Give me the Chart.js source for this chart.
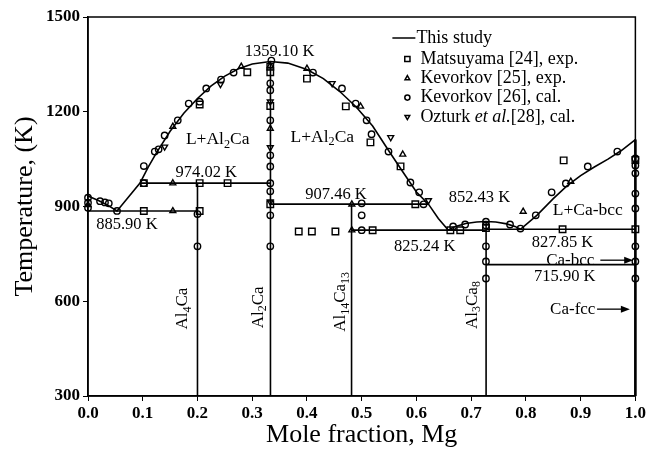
<!DOCTYPE html>
<html>
<head>
<meta charset="utf-8">
<script src="https://cdn.jsdelivr.net/npm/chart.js@4.4.0/dist/chart.umd.min.js"></script>
<style>
  html, body { margin: 0; padding: 0; background: #fff; }
</style>
</head>
<body>
<canvas id="phaseChart" width="648" height="455"></canvas>
<script>
const SERIF = '"Liberation Serif", "Times New Roman", serif';

// liquidus calculated in this study, [mole fraction Mg, T]
const liquidus = [
    [0, 933], [0.02, 918], [0.035, 905], [0.053, 885.9], [0.095, 974.02],
    [0.11, 1025], [0.125, 1070], [0.15, 1138], [0.175, 1195], [0.2, 1242],
    [0.225, 1282], [0.25, 1313], [0.275, 1336], [0.3, 1351], [0.333, 1359.1],
    [0.365, 1354], [0.4, 1334], [0.43, 1305], [0.46, 1264], [0.49, 1215],
    [0.52, 1155], [0.55, 1075], [0.575, 1010], [0.6, 946], [0.622, 907.46],
    [0.64, 862], [0.658, 825.24], [0.67, 836], [0.69, 846], [0.71, 851],
    [0.727, 852.43], [0.745, 851], [0.765, 845], [0.78, 837], [0.79, 827.85],
    [0.82, 872], [0.85, 925], [0.875, 965], [0.9, 998], [0.925, 1025],
    [0.95, 1050], [0.975, 1078], [1.0, 1112]
];

// invariant reactions (horizontal lines)
const invariantT = [885.90, 974.02, 907.46, 825.24, 827.85, 715.90];
const invariantFrom = [0, 0.095, 0.333, 0.482, 0.727, 0.727];
const invariantTo = [0.2, 0.333, 0.622, 0.727, 1.0, 1.0];

// compounds (vertical lines)
const compoundX = [0.2, 1 / 3, 13 / 27, 8 / 11, 1.0];
const compoundTop = [974.02, 1359.10, 907.46, 852.43, 1112];

// literature data
const matsuyamaExp = [
    [0.102, 885.9], [0.102, 974], [0.204, 885.9], [0.204, 974], [0.255, 974], [0.204, 1223],
    [0.291, 1325], [0.333, 1342], [0.333, 1325], [0.333, 1218], [0.333, 907], [0.4, 1305],
    [0.471, 1217], [0.516, 1103], [0.571, 1027], [0.598, 907], [0.385, 821], [0.409, 821],
    [0.452, 821], [0.52, 825], [0.662, 825], [0.68, 825], [0.727, 832], [0.867, 828],
    [0.869, 1046], [1.0, 828], [1.0, 1047]
];
const kevorkovExp = [
    [0, 905], [0.155, 885.9], [0.155, 974], [0.155, 1153], [0.28, 1343], [0.333, 1346],
    [0.333, 1147], [0.4, 1337], [0.498, 1217], [0.575, 1065], [0.482, 907], [0.482, 825],
    [0.795, 884], [0.882, 979]
];
const kevorkovCal = [
    [0, 928], [0, 912], [0, 896], [0.022, 917], [0.031, 913], [0.038, 910], [0.053, 885.9],
    [0.102, 974], [0.102, 1028], [0.122, 1074], [0.129, 1081], [0.14, 1125], [0.164, 1173],
    [0.184, 1226], [0.204, 1232], [0.216, 1274], [0.243, 1302], [0.266, 1324], [0.335, 1362],
    [0.333, 1290], [0.333, 1268], [0.333, 1173], [0.333, 1062], [0.333, 1027], [0.333, 974],
    [0.333, 948], [0.333, 872], [0.333, 774], [0.2, 876], [0.2, 774], [0.411, 1324],
    [0.464, 1274], [0.489, 1226], [0.509, 1173], [0.518, 1129], [0.549, 1074], [0.589, 976],
    [0.605, 945], [0.613, 907], [0.5, 910], [0.5, 872], [0.5, 825], [0.667, 837],
    [0.689, 843], [0.727, 852], [0.727, 840], [0.771, 843], [0.79, 830], [0.727, 774],
    [0.727, 726], [0.727, 672], [1.0, 1052], [1.0, 1030], [1.0, 1005], [1.0, 941],
    [1.0, 894], [1.0, 774], [1.0, 726], [1.0, 672], [0.818, 872], [0.847, 945],
    [0.873, 973], [0.913, 1027], [0.967, 1074]
];
const ozturkCal = [
    [0.14, 1089], [0.242, 1287], [0.333, 1232], [0.333, 1087], [0.333, 915],
    [0.446, 1290], [0.553, 1119], [0.622, 919]
];

// text placed in data coordinates: _{..} subscript, *..* italic
const notes = [
    { text: '1359.10 K', x: 0.35, t: 1390, size: 16.5 },
    { text: 'L+Al_{2}Ca', x: 0.237, t: 1111, size: 17.5 },
    { text: 'L+Al_{2}Ca', x: 0.428, t: 1120, size: 17.5 },
    { text: '974.02 K', x: 0.216, t: 1006, size: 16.5 },
    { text: '885.90 K', x: 0.071, t: 844, size: 16.5 },
    { text: '907.46 K', x: 0.453, t: 939, size: 16.5 },
    { text: '852.43 K', x: 0.715, t: 929, size: 16.5 },
    { text: '825.24 K', x: 0.615, t: 772, size: 16.5 },
    { text: '827.85 K', x: 0.867, t: 787, size: 16.5 },
    { text: 'L+Ca-bcc', x: 0.913, t: 889, size: 17.5 },
    { text: '715.90 K', x: 0.871, t: 677, size: 16.5 },
    { text: 'Ca-bcc', x: 0.925, t: 730, size: 17, align: 'right' },
    { text: 'Ca-fcc', x: 0.927, t: 575, size: 17, align: 'right' },
    { text: 'Al_{4}Ca', x: 0.173, t: 577, size: 17, rot: true },
    { text: 'Al_{2}Ca', x: 0.311, t: 581, size: 17, rot: true },
    { text: 'Al_{14}Ca_{13}', x: 0.461, t: 598, size: 17, rot: true },
    { text: 'Al_{3}Ca_{8}', x: 0.702, t: 588, size: 17, rot: true }
];
const arrows = [
    { from: 0.936, to: 0.996, t: 730 },
    { from: 0.93, to: 0.99, t: 575 }
];

function drawRich(ctx, s, x, y, size, align) {
    let parts = [];
    s.replace(/_\{([^}]*)\}|\*([^*]*)\*|([^_*]+)/g, (m, sub, it, plain) => {
        if (sub) parts.push({ t: sub, font: (size * 0.7) + 'px ' + SERIF, dy: size * 0.3 });
        else if (it) parts.push({ t: it, font: 'italic ' + size + 'px ' + SERIF, dy: 0 });
        else parts.push({ t: plain, font: size + 'px ' + SERIF, dy: 0 });
        return m;
    });
    let w = 0;
    parts.forEach(p => { ctx.font = p.font; p.w = ctx.measureText(p.t).width; w += p.w; });
    let cx = align === 'center' ? x - w / 2 : (align === 'right' ? x - w : x);
    ctx.textAlign = 'left';
    parts.forEach(p => { ctx.font = p.font; ctx.fillText(p.t, cx, y + p.dy); cx += p.w; });
}

const toXY = arr => arr.map(p => ({ x: p[0], y: p[1] }));

let datasets = [];
function markers(label, data, style, radius, rotation) {
    datasets.push({
        label: label, data: toXY(data), showLine: false, order: 0, clip: false,
        pointStyle: style, pointRadius: radius, pointRotation: rotation || 0,
        pointBorderWidth: 1.4, pointBorderColor: '#000', pointBackgroundColor: 'rgba(0,0,0,0)'
    });
}
datasets.push({
    label: 'This study', data: toXY(liquidus), showLine: true, order: 1, clip: false,
    borderColor: '#000', borderWidth: 1.6, pointRadius: 0, tension: 0
});
markers('Matsuyama [24], exp.', matsuyamaExp, 'rect', 4.6);
markers('Kevorkov [25], exp.', kevorkovExp, 'triangle', 3.4);
markers('Kevorkov [26], cal.', kevorkovCal, 'circle', 3.2);
markers('Ozturk *et al.*[28], cal.', ozturkCal, 'triangle', 3.4, 180);

invariantT.forEach((t, i) => {
    datasets.push({
        data: [{ x: invariantFrom[i], y: t }, { x: invariantTo[i], y: t }],
        showLine: true, order: 1, borderColor: '#000', borderWidth: 1.6, pointRadius: 0
    });
});
compoundX.forEach((cx, i) => {
    datasets.push({
        data: [{ x: cx, y: 300 }, { x: cx, y: compoundTop[i] }],
        showLine: true, order: 1, clip: false, borderColor: '#000',
        borderWidth: cx === 1.0 ? 2.6 : 1.6, pointRadius: 0
    });
});

const drawings = {
    id: 'drawings',
    afterDraw(chart) {
        const { ctx, chartArea: a, scales: { x, y } } = chart;
        ctx.save();
        ctx.strokeStyle = '#000';
        ctx.lineWidth = 1.5;
        ctx.strokeRect(a.left, a.top, a.right - a.left, a.bottom - a.top);

        ctx.fillStyle = '#000';
        ctx.textBaseline = 'middle';
        notes.forEach(n => {
            const px = x.getPixelForValue(n.x), py = y.getPixelForValue(n.t);
            if (n.rot) {
                ctx.save();
                ctx.translate(px, py);
                ctx.rotate(-Math.PI / 2);
                drawRich(ctx, n.text, 0, 0, n.size, 'center');
                ctx.restore();
            } else {
                drawRich(ctx, n.text, px, py, n.size, n.align || 'center');
            }
        });

        arrows.forEach(ar => {
            const x1 = x.getPixelForValue(ar.from), x2 = x.getPixelForValue(ar.to);
            const py = y.getPixelForValue(ar.t);
            ctx.lineWidth = 1.3;
            ctx.beginPath();
            ctx.moveTo(x1, py);
            ctx.lineTo(x2 - 6, py);
            ctx.stroke();
            ctx.beginPath();
            ctx.moveTo(x2, py);
            ctx.lineTo(x2 - 9, py - 3.5);
            ctx.lineTo(x2 - 9, py + 3.5);
            ctx.closePath();
            ctx.fill();
        });

        // legend
        const mx = a.right - 228;
        let ly = a.top + 21;
        chart.data.datasets.forEach(ds => {
            if (!ds.label) return;
            if (ds.showLine) {
                ctx.lineWidth = 1.5;
                ctx.beginPath();
                ctx.moveTo(mx - 15, ly);
                ctx.lineTo(mx + 8, ly);
                ctx.stroke();
                ctx.fillStyle = '#000';
                drawRich(ctx, ds.label, mx + 9, ly, 18, 'left');
                ly += 21;
            } else {
                ctx.fillStyle = 'rgba(0,0,0,0)';
                Chart.helpers.drawPoint(ctx, {
                    pointStyle: ds.pointStyle, radius: ds.pointRadius * 0.8,
                    rotation: ds.pointRotation, borderWidth: 1.2
                }, mx, ly);
                ctx.fillStyle = '#000';
                drawRich(ctx, ds.label, mx + 13, ly, 18, 'left');
                ly += 19.3;
            }
        });
        ctx.restore();
    }
};

const tickFont = { family: SERIF, size: 17, weight: 'bold' };
const titleFont = { family: SERIF, size: 26 };

new Chart(document.getElementById('phaseChart').getContext('2d'), {
    type: 'scatter',
    data: { datasets: datasets },
    options: {
        responsive: false,
        animation: false,
        layout: { padding: { top: 17, right: 10, left: 0, bottom: 0 } },
        plugins: { legend: { display: false }, tooltip: { enabled: false } },
        scales: {
            x: {
                type: 'linear', min: 0, max: 1,
                ticks: { stepSize: 0.1, color: '#000', font: tickFont, padding: 2, maxRotation: 0,
                         callback: v => v.toFixed(1) },
                grid: { drawOnChartArea: false, color: '#000', tickLength: 5 },
                border: { color: '#000', width: 1.5 },
                title: { display: true, text: 'Mole fraction, Mg', color: '#000', font: titleFont,
                         padding: { top: 0, bottom: 4 } },
                afterFit: s => { s.height = 59; }
            },
            y: {
                min: 300, max: 1500,
                ticks: { stepSize: 300, color: '#000', font: tickFont, padding: 3,
                         callback: v => String(v) },
                grid: { drawOnChartArea: false, color: '#000', tickLength: 5 },
                border: { color: '#000', width: 1.5 },
                title: { display: true, text: 'Temperature, (K)', color: '#000', font: titleFont,
                         padding: { top: 10, bottom: 0 } },
                afterFit: s => { s.width = 88; }
            }
        }
    },
    plugins: [drawings]
});
</script>
</body>
</html>
